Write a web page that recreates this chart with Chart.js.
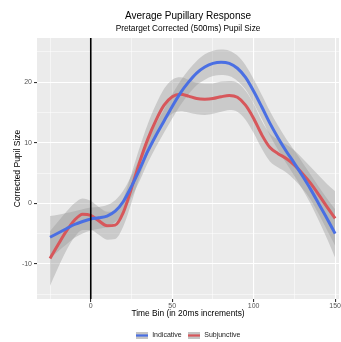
<!DOCTYPE html>
<html lang="en">
<head>
    <meta charset="UTF-8">
    <title>Average Pupillary Response</title>
    <style>
        body { margin: 0; background: #ffffff; }
        #wrap { position: relative; width: 341px; height: 342px; }
    </style>
</head>
<body>
    <div id="wrap"><canvas id="pupilChart"></canvas></div>

    <script src="https://cdn.jsdelivr.net/npm/chart.js@4.4.0/dist/chart.umd.min.js"></script>

    <script>
        // time bins (20ms increments)
        const timeBins = [-25, -20, -15, -10, -5, 0, 5, 10, 15, 20, 25, 30, 35, 40, 45, 50, 55, 60, 65, 70, 75, 80, 85, 90, 95, 100, 105, 110, 115, 120, 125, 130, 135, 140, 145, 150];

        // smoothed curves
        const indicative = [-5.6, -4.9, -4.2, -3.5, -3.0, -2.6, -2.4, -2.1, -1.3, 0.3, 2.8, 5.6, 8.6, 11.2, 13.6, 16.0, 18.2, 20.0, 21.5, 22.5, 23.1, 23.3, 23.1, 22.3, 20.8, 18.5, 15.9, 13.2, 10.8, 8.6, 6.6, 4.5, 2.3, -0.1, -2.5, -5.0];
        const subjunctive = [-9.1, -6.8, -4.6, -2.8, -1.8, -2.0, -2.9, -3.7, -3.6, -1.5, 2.5, 6.8, 10.6, 13.7, 16.2, 17.6, 18.0, 17.7, 17.3, 17.2, 17.3, 17.6, 17.8, 17.5, 16.2, 14.0, 11.3, 9.2, 8.2, 7.4, 6.3, 4.9, 3.3, 1.4, -0.6, -2.5];

        // half widths of the confidence bands
        const indicativeSE = [3.5, 3.0, 2.6, 2.2, 2.0, 1.9, 1.8, 1.8, 1.8, 1.8, 1.8, 1.9, 1.9, 1.9, 1.9, 2.0, 2.0, 2.0, 2.0, 2.1, 2.1, 2.1, 2.1, 2.1, 2.0, 2.0, 2.0, 2.0, 2.0, 2.0, 2.1, 2.2, 2.4, 2.8, 3.3, 4.0];
        const subjunctiveSE = [4.5, 3.8, 3.2, 2.8, 2.6, 2.4, 2.3, 2.3, 2.3, 2.3, 2.4, 2.4, 2.5, 2.6, 2.7, 2.8, 2.8, 2.7, 2.6, 2.6, 2.5, 2.5, 2.4, 2.4, 2.4, 2.4, 2.3, 2.3, 2.3, 2.3, 2.4, 2.5, 2.7, 3.2, 3.8, 4.5];

        const seriesNames = ["Indicative", "Subjunctive"];
        const seriesColors = ["#4A6FE3", "#D7575B"];

        // axis ticks
        const xMajor = [0, 50, 100, 150];
        const xMinor = [-25, 25, 75, 125];
        const yMajor = [-10, 0, 10, 20];
        const yMinor = [-15, -5, 5, 15, 25];

        const bandColor = "rgba(153,153,153,0.4)";

        function pts(ys) {
            return timeBins.map(function (x, i) { return { x: x, y: ys[i] }; });
        }
        function band(ys, se, sign) {
            return timeBins.map(function (x, i) { return { x: x, y: ys[i] + sign * se[i] }; });
        }

        // legend key: grey box with coloured line
        function legendKey(color) {
            var c = document.createElement('canvas');
            c.width = 12; c.height = 7;
            var g = c.getContext('2d');
            g.fillStyle = "#C4C4C4";
            g.fillRect(0, 0, 12, 7);
            g.strokeStyle = color;
            g.lineWidth = 2.2;
            g.beginPath(); g.moveTo(0, 3.5); g.lineTo(12, 3.5); g.stroke();
            return c;
        }

        function bandSets(ys, se, name) {
            return [
                { label: name + " upper", data: band(ys, se, 1), borderWidth: 0, pointRadius: 0,
                  backgroundColor: bandColor, fill: "+1", cubicInterpolationMode: "monotone", order: 5 },
                { label: name + " lower", data: band(ys, se, -1), borderWidth: 0, pointRadius: 0,
                  backgroundColor: bandColor, fill: false, cubicInterpolationMode: "monotone", order: 5 }
            ];
        }

        const datasets = []
            .concat(bandSets(indicative, indicativeSE, "Indicative"))
            .concat(bandSets(subjunctive, subjunctiveSE, "Subjunctive"))
            .concat([
                { label: "Indicative", data: pts(indicative), borderColor: seriesColors[0], borderWidth: 3,
                  pointRadius: 0, fill: false, cubicInterpolationMode: "monotone", order: 2,
                  pointStyle: legendKey(seriesColors[0]) },
                { label: "Subjunctive", data: pts(subjunctive), borderColor: seriesColors[1], borderWidth: 3,
                  pointRadius: 0, fill: false, cubicInterpolationMode: "monotone", order: 2,
                  pointStyle: legendKey(seriesColors[1]) },
                { label: "zero", data: [{ x: 0, y: -16 }, { x: 0, y: 28 }], borderColor: "#000000",
                  borderWidth: 1.6, pointRadius: 0, fill: false, order: 1 }
            ]);

        // grey panel background
        const panelBg = {
            id: "panelBg",
            beforeDraw: function (chart) {
                var a = chart.chartArea, ctx = chart.ctx;
                ctx.save();
                ctx.fillStyle = "#EBEBEB";
                ctx.fillRect(a.left, a.top, a.right - a.left, a.bottom - a.top);
                ctx.restore();
            }
        };

        function setTicks(list) {
            return function (scale) {
                scale.ticks = list.slice().sort(function (a, b) { return a - b; })
                    .map(function (v) { return { value: v }; });
            };
        }

        function gridFor(major) {
            return {
                color: "#ffffff",
                lineWidth: function (ctx) { return major.indexOf(ctx.tick.value) >= 0 ? 1.1 : 0.5; },
                tickColor: function (ctx) { return major.indexOf(ctx.tick.value) >= 0 ? "#333333" : "rgba(0,0,0,0)"; },
                tickLength: 3,
                drawTicks: true
            };
        }

        Chart.defaults.font.family = "'Liberation Sans', Arial, sans-serif";

        new Chart("pupilChart", {
            type: "line",
            data: { datasets: datasets },
            plugins: [panelBg],
            options: {
                responsive: true,
                maintainAspectRatio: false,
                animation: false,
                layout: { padding: { left: 0, right: 0, top: 0, bottom: 0 } },
                plugins: {
                    title: {
                        display: true,
                        fullSize: false,
                        text: "Average Pupillary Response",
                        color: "#000000",
                        font: { size: 10, weight: "normal" },
                        padding: { top: 10, bottom: 2 }
                    },
                    subtitle: {
                        display: true,
                        fullSize: false,
                        text: "Pretarget Corrected (500ms) Pupil Size",
                        color: "#000000",
                        font: { size: 8.3 },
                        padding: { top: 0, bottom: 4 }
                    },
                    legend: {
                        position: "bottom",
                        fullSize: false,
                        maxHeight: 16,
                        labels: {
                            usePointStyle: true,
                            pointStyleWidth: 13,
                            color: "#222222",
                            font: { size: 7 },
                            padding: 6,
                            filter: function (item) { return seriesNames.indexOf(item.text) >= 0; }
                        }
                    },
                    tooltip: { enabled: false }
                },
                scales: {
                    x: {
                        type: "linear",
                        min: -33,
                        max: 152.4,
                        border: { display: false },
                        afterBuildTicks: setTicks(xMajor.concat(xMinor)),
                        afterFit: function (scale) { scale.height = 27; },
                        grid: gridFor(xMajor),
                        ticks: {
                            color: "#555555",
                            font: { size: 7 },
                            padding: 0,
                            maxRotation: 0,
                            callback: function (v) { return xMajor.indexOf(v) >= 0 ? String(v) : ""; }
                        },
                        title: {
                            display: true,
                            text: "Time Bin (in 20ms increments)",
                            color: "#000000",
                            font: { size: 8.4 },
                            padding: { top: 0, bottom: 7.5 }
                        }
                    },
                    y: {
                        type: "linear",
                        min: -15.8,
                        max: 27.3,
                        border: { display: false },
                        afterBuildTicks: setTicks(yMajor.concat(yMinor)),
                        afterFit: function (scale) { scale.width = 37; },
                        grid: gridFor(yMajor),
                        ticks: {
                            color: "#555555",
                            font: { size: 7 },
                            padding: 2,
                            callback: function (v) { return yMajor.indexOf(v) >= 0 ? String(v) : ""; }
                        },
                        title: {
                            display: true,
                            text: "Corrected Pupil Size",
                            color: "#000000",
                            font: { size: 8.5 },
                            padding: { top: 13, bottom: 0 }
                        }
                    }
                }
            }
        });
    </script>
</body>
</html>
